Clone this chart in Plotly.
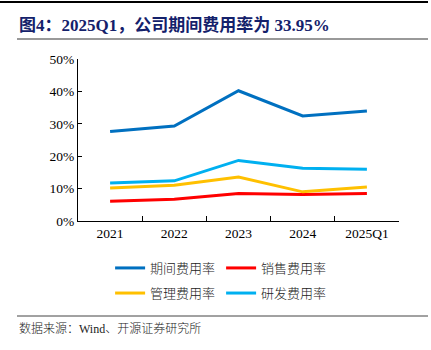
import plotly.graph_objects as go

categories = ["2021", "2022", "2023", "2024", "2025Q1"]
period_rate = [27.6, 29.3, 40.2, 32.4, 33.95]
sales_rate = [6.1, 6.7, 8.5, 8.2, 8.5]
admin_rate = [10.2, 11.0, 13.6, 9.0, 10.5]
rd_rate = [11.7, 12.4, 18.7, 16.3, 16.0]
y_ticks = [0, 10, 20, 30, 40, 50]
y_tick_labels = ["0%", "10%", "20%", "30%", "40%", "50%"]

series = [
    ("期间费用率", period_rate, "#0070C0", "legend"),
    ("销售费用率", sales_rate, "#FF0000", "legend"),
    ("管理费用率", admin_rate, "#FFC000", "legend2"),
    ("研发费用率", rd_rate, "#00B0F0", "legend2"),
]

fig = go.Figure()
for name, vals, color, lg in series:
    fig.add_trace(go.Scatter(
        x=categories, y=vals, name=name, mode="lines",
        line=dict(color=color, width=3), legend=lg,
    ))

tick_font = dict(family="Liberation Serif, Times New Roman, serif", size=13.5, color="#000000")
legend_font = dict(family="Noto Sans CJK SC", size=13, color="#222222", weight=300)

fig.update_layout(
    width=431, height=350,
    margin=dict(l=78, r=32, t=59, b=129),
    paper_bgcolor="white", plot_bgcolor="white",
    showlegend=True,
    legend=dict(orientation="h", x=0.1, xanchor="left", y=-0.29, yanchor="middle",
                font=legend_font, entrywidth=66, entrywidthmode="pixels",
                bgcolor="rgba(0,0,0,0)", itemclick=False),
    legend2=dict(orientation="h", x=0.1, xanchor="left", y=-0.445, yanchor="middle",
                 font=legend_font, entrywidth=66, entrywidthmode="pixels",
                 bgcolor="rgba(0,0,0,0)", itemclick=False),
    xaxis=dict(type="category", range=[-0.5, 4.5], showline=True, linecolor="#000000",
               linewidth=1, ticks="inside", ticklen=5, tickcolor="#000000",
               tickson="boundaries", showgrid=False, tickfont=tick_font, zeroline=False),
    yaxis=dict(range=[0, 50], tickmode="array", tickvals=y_ticks, ticktext=y_tick_labels,
               showline=True, linecolor="#000000", linewidth=1, ticks="inside", ticklen=4,
               tickcolor="#000000", showgrid=False, zeroline=False, tickfont=tick_font),
    shapes=[
        dict(type="line", xref="paper", yref="paper", x0=-78/321, x1=350/321,
             y0=1 + 57/162, y1=1 + 57/162, line=dict(color="#000000", width=2)),
        dict(type="line", xref="paper", yref="paper", x0=-61/321, x1=350/321,
             y0=1 + 20/162, y1=1 + 20/162, line=dict(color="#999999", width=2)),
        dict(type="line", xref="paper", yref="paper", x0=-61/321, x1=350/321,
             y0=-95/162, y1=-95/162, line=dict(color="#444444", width=1)),
    ],
    annotations=[
        dict(text="<b>图4：2025Q1，公司期间费用率为 33.95%</b>", xref="paper", yref="paper",
             x=-61/321, y=1 + 34/162, xanchor="left", yanchor="middle", showarrow=False,
             font=dict(family="Liberation Serif, Noto Sans CJK SC", size=17, color="#14216B")),
        dict(text="数据来源：Wind、开源证券研究所", xref="paper", yref="paper",
             x=-61/321, y=-108/162, xanchor="left", yanchor="middle", showarrow=False,
             font=dict(family="Liberation Serif, Noto Sans CJK SC", size=12, color="#222222",
                       weight=300)),
    ],
)

fig.write_html("out.html")
